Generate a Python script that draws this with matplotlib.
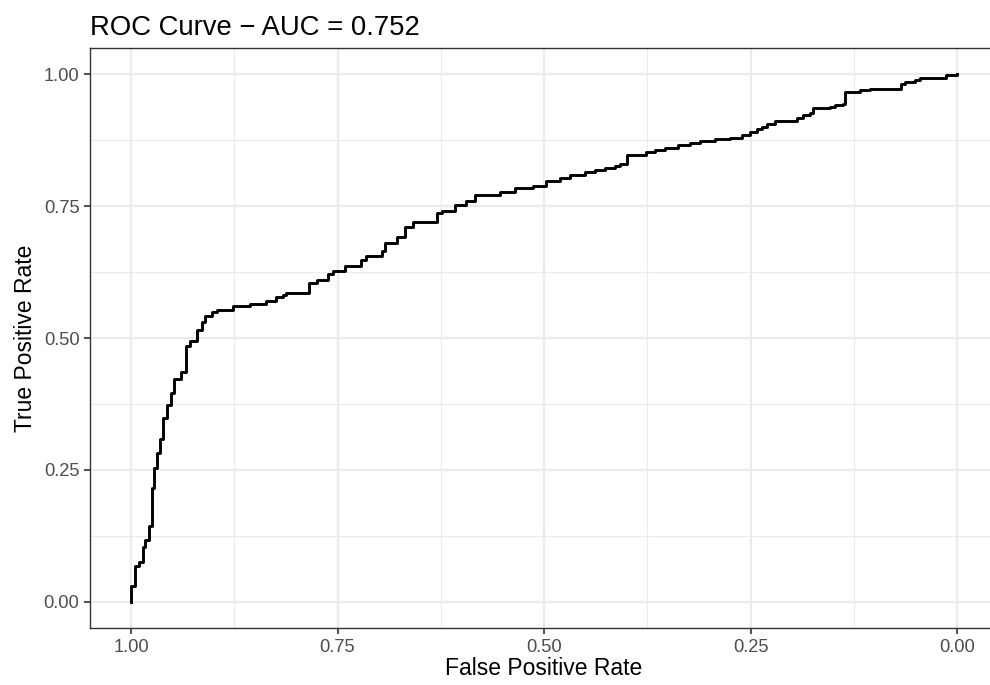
import matplotlib
matplotlib.use("Agg")
import matplotlib.pyplot as plt

# ROC curve step vertices (x axis is specificity, shown reversed)
spec = [1.000, 1.000, 0.995, 0.990, 0.986, 0.983, 0.978, 0.974, 0.972, 0.969,
        0.965, 0.961, 0.957, 0.951, 0.948, 0.939, 0.933, 0.929, 0.920, 0.914,
        0.910, 0.902, 0.896, 0.876, 0.856, 0.836, 0.824, 0.816, 0.812, 0.785,
        0.775, 0.762, 0.755, 0.741, 0.721, 0.715, 0.696, 0.692, 0.678, 0.668,
        0.658, 0.630, 0.624, 0.608, 0.594, 0.584, 0.553, 0.535, 0.513, 0.497,
        0.481, 0.469, 0.450, 0.438, 0.426, 0.414, 0.408, 0.400, 0.376, 0.366,
        0.354, 0.338, 0.323, 0.311, 0.293, 0.275, 0.260, 0.251, 0.242, 0.236,
        0.230, 0.220, 0.194, 0.186, 0.178, 0.174, 0.154, 0.148, 0.138, 0.136,
        0.130, 0.117, 0.105, 0.068, 0.063, 0.051, 0.045, 0.013, 0.000]
tpr = [0.000, 0.030, 0.068, 0.076, 0.105, 0.117, 0.143, 0.215, 0.254, 0.282,
       0.309, 0.348, 0.373, 0.396, 0.422, 0.436, 0.484, 0.494, 0.515, 0.531,
       0.542, 0.550, 0.553, 0.561, 0.564, 0.571, 0.577, 0.581, 0.585, 0.604,
       0.610, 0.621, 0.627, 0.636, 0.648, 0.655, 0.664, 0.679, 0.691, 0.711,
       0.720, 0.736, 0.741, 0.752, 0.760, 0.770, 0.777, 0.784, 0.788, 0.798,
       0.803, 0.809, 0.814, 0.818, 0.822, 0.826, 0.830, 0.847, 0.852, 0.856,
       0.860, 0.866, 0.869, 0.873, 0.876, 0.879, 0.884, 0.890, 0.896, 0.900,
       0.905, 0.911, 0.916, 0.922, 0.926, 0.935, 0.938, 0.941, 0.944, 0.965,
       0.966, 0.970, 0.972, 0.981, 0.985, 0.989, 0.992, 0.999, 1.000]

auc = 0.752
major_ticks = [1.00, 0.75, 0.50, 0.25, 0.00]
minor_ticks = [0.875, 0.625, 0.375, 0.125]

plt.rcParams['font.family'] = ['Liberation Sans', 'DejaVu Sans']

fig = plt.figure(figsize=(9.9, 6.85), dpi=100)
# panel runs past the right edge of the image, like the reference
ax = fig.add_axes([89.7 / 990, 1 - 628.4 / 685, 908.6 / 990, 580.8 / 685])

ax.plot(spec, tpr, color='black', lw=2.1, drawstyle='steps-post', zorder=3)

ax.set_xlim(1.05, -0.05)
ax.set_ylim(-0.05, 1.05)
ax.set_xticks(major_ticks)
ax.set_yticks(major_ticks)
ax.set_xticklabels(["%.2f" % t for t in major_ticks])
ax.set_yticklabels(["%.2f" % t for t in major_ticks])
ax.set_xticks(minor_ticks, minor=True)
ax.set_yticks(minor_ticks, minor=True)

ax.grid(which='major', color='#EBEBEB', lw=1.6, zorder=0)
ax.grid(which='minor', color='#EBEBEB', lw=0.8, zorder=0)
ax.set_axisbelow(True)

for s in ax.spines.values():
    s.set_color('#333333')
    s.set_linewidth(1.0)

ax.tick_params(which='major', length=4.1, width=1.2, color='#333333',
               labelsize=13.2, labelcolor='#4D4D4D', pad=3.3)
ax.tick_params(which='minor', length=0)

ax.set_xlabel("False Positive Rate", fontsize=16.5, color='black', labelpad=1)
ax.set_ylabel("True Positive Rate", fontsize=16.5, color='black', labelpad=5)
ax.set_title("ROC Curve \u2212 AUC = %.3f" % auc, fontsize=19.8, loc='left', pad=9)

fig.savefig("out.png", dpi=100)
